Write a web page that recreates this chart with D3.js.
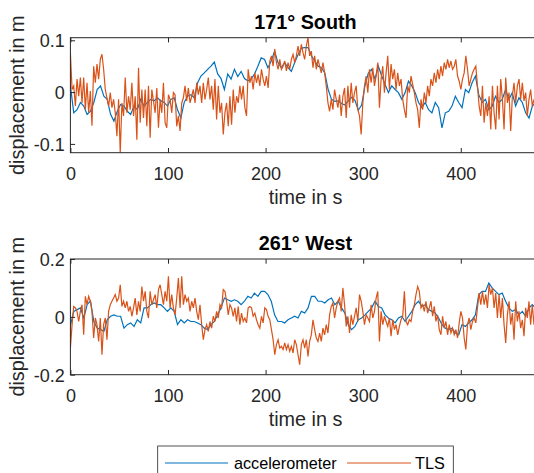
<!DOCTYPE html>
<html><head><meta charset="utf-8">
<script src="https://cdn.jsdelivr.net/npm/d3@7"></script>
<style>
body{margin:0;background:#fff}
svg{display:block}
text{font-family:"Liberation Sans",Arial,Helvetica,sans-serif}
</style>
</head><body>
<svg id="c" width="534" height="473"></svg>
<script>
// ---------- data ----------
const xTicks = [0, 100, 200, 300, 400];
const southTicks = [-0.1, 0, 0.1];
const westTicks = [-0.2, 0, 0.2];
const titles = ["171° South", "261° West"];
const seriesNames = ["accelerometer", "TLS"];
const xLabel = "time in s";
const yLabel = "displacement in m";
const accStep = 3.43;     // s between accelerometer samples read
const tlsStep = 1.7025;   // s between TLS samples read

const southAcc = [0.012,-0.040,-0.034,-0.020,-0.027,-0.043,-0.037,-0.020,0.005,0.012,-0.008,-0.014,-0.043,-0.056,-0.037,-0.024,-0.027,-0.037,-0.043,-0.027,-0.034,-0.014,-0.027,-0.020,-0.014,-0.017,-0.011,-0.017,-0.020,-0.027,-0.014,-0.011,-0.034,-0.050,-0.020,-0.008,-0.005,-0.011,0.018,0.031,0.037,0.044,0.050,0.058,0.035,0.026,0.005,
0.035,0.025,0.044,0.030,0.040,0.026,0.022,0.025,0.035,0.050,0.066,0.063,0.047,0.060,0.079,0.057,0.047,0.057,0.047,0.040,0.057,0.072,0.085,0.086,0.086,0.070,0.060,0.050,0.047,0.037,0.005,-0.014,-0.018,-0.017,-0.022,-0.025,-0.017,-0.010,-0.016,-0.035,-0.025,0.012,0.037,0.044,0.025,0.050,
0.031,0.015,-0.001,0.012,0.005,-0.001,-0.014,-0.001,0.021,0.012,-0.001,-0.020,-0.030,-0.020,-0.034,-0.040,-0.020,-0.030,-0.069,-0.040,-0.037,-0.027,-0.008,-0.020,-0.030,0.005,-0.001,0.018,0.031,-0.005,-0.020,-0.014,-0.034,-0.027,-0.008,-0.020,-0.014,0.005,-0.014,-0.001,-0.027,-0.011,-0.020,-0.040,-0.050,-0.027,-0.020,-0.030];

const southTLS = [0.076,0.005,0.012,-0.027,0.025,-0.008,0.028,-0.021,0.028,-0.034,0.018,-0.040,0.002,-0.065,0.050,0.018,0.054,0.025,0.063,0.073,0.044,0.005,-0.011,-0.027,-0.001,-0.030,-0.014,-0.040,-0.085,-0.014,-0.117,-0.021,-0.046,0.028,-0.040,-0.008,-0.034,0.018,-0.046,-0.008,-0.092,0.047,-0.059,0.005,-0.050,0.005,-0.066,0.012,-0.088,0.005,-0.017,-0.040,0.008,-0.069,-0.014,-0.040,0.018,-0.059,-0.069,-0.005,-0.014,-0.040,-0.001,-0.005,-0.066,-0.046,-0.075,-0.021,-0.011,0.012,-0.017,0.008,-0.021,-0.008,0.005,-0.021,0.018,-0.005,0.012,-0.021,0.018,-0.014,0.005,0.028,-0.014,0.012,-0.034,0.025,-0.053,0.012,-0.040,-0.021,-0.082,-0.040,
-0.021,-0.066,-0.008,-0.063,0.005,-0.040,-0.008,-0.021,0.012,-0.014,0.012,-0.030,-0.046,0.044,0.018,0.031,0.005,0.037,0.018,0.034,0.012,0.044,0.025,0.012,0.031,0.008,0.060,0.070,0.050,0.083,0.057,0.044,0.063,0.044,0.050,0.060,0.041,0.057,0.044,0.063,0.073,0.057,0.070,0.089,0.070,0.092,0.076,0.063,0.089,0.105,0.070,0.079,0.047,0.070,0.044,0.063,0.050,0.037,0.057,0.037,0.012,-0.021,-0.037,-0.014,-0.034,0.005,-0.014,-0.030,-0.005,-0.046,-0.008,0.008,-0.050,0.012,-0.030,0.018,-0.021,-0.001,0.012,-0.034,-0.046,-0.082,-0.021,0.012,0.031,-0.001,0.044,0.018,0.047,0.012,0.031,0.057,-0.030,
0.025,0.050,-0.001,0.037,0.070,0.005,0.054,0.025,0.044,0.005,0.037,0.012,0.025,-0.014,-0.034,-0.050,0.012,-0.001,0.031,0.015,-0.001,-0.021,-0.034,-0.069,-0.014,-0.034,-0.001,-0.021,0.012,-0.008,0.025,0.012,0.037,0.018,0.044,0.025,0.050,0.031,0.057,0.044,0.063,0.047,0.060,0.044,0.050,0.063,0.031,0.021,0.005,0.025,0.037,0.070,0.044,0.012,0.025,0.037,0.044,0.050,0.012,-0.027,-0.046,0.012,-0.059,-0.021,-0.046,-0.008,-0.072,0.012,-0.040,-0.072,0.012,-0.053,0.025,-0.014,-0.072,0.028,-0.021,-0.001,-0.075,-0.008,0.018,-0.021,0.012,0.025,-0.014,0.018,-0.017,-0.001,-0.046,-0.014,0.005,-0.027,-0.014,-0.030,0.000,-0.020];

const westAcc = [-0.030,0.019,0.025,0.031,-0.004,0.042,0.055,-0.016,-0.039,-0.044,-0.050,-0.010,0.002,0.007,0.002,0.002,-0.039,-0.027,-0.021,-0.033,-0.010,-0.021,0.031,0.031,0.042,0.048,0.042,0.042,0.031,0.019,0.031,0.019,-0.027,-0.010,-0.021,-0.010,-0.016,-0.016,-0.021,-0.027,-0.039,-0.044,-0.027,-0.016,0.007,0.031,0.065,
0.059,0.054,0.059,0.054,0.042,0.054,0.071,0.065,0.082,0.071,0.088,0.088,0.077,0.054,0.007,-0.016,-0.016,-0.021,-0.010,-0.004,0.002,-0.004,0.019,0.013,0.031,0.071,0.071,0.054,0.054,0.048,0.059,0.065,0.042,0.054,0.031,0.013,-0.027,-0.044,-0.033,-0.010,-0.004,0.007,0.019,0.031,0.054,0.036,
0.031,0.007,-0.004,-0.010,-0.021,-0.004,0.002,-0.016,0.002,0.019,0.042,0.054,0.036,0.042,0.025,0.019,0.013,-0.004,-0.027,-0.039,-0.044,-0.039,-0.056,-0.062,-0.027,-0.033,-0.021,-0.010,0.007,0.077,0.088,0.088,0.117,0.100,0.088,0.077,0.082,0.054,0.031,0.019,0.025,0.007,0.019,0.002,0.031,0.042,0.030,0.020];

const westTLS = [-0.108,-0.027,0.036,0.031,0.019,-0.016,0.019,0.042,-0.062,0.071,0.042,0.071,0.054,0.019,-0.073,-0.004,-0.027,-0.085,-0.004,-0.131,-0.027,-0.004,-0.079,0.019,0.042,0.054,0.065,0.077,0.054,0.065,0.111,0.036,0.054,0.031,0.054,0.019,0.036,0.002,0.031,0.065,0.007,0.054,0.019,0.105,0.054,0.088,0.019,-0.004,0.088,0.042,0.059,0.077,0.031,0.094,0.111,0.077,0.042,0.088,0.054,0.140,0.031,0.077,0.031,0.007,0.065,0.134,0.031,0.140,0.042,0.077,0.054,0.065,0.019,0.054,0.031,0.065,0.019,-0.010,0.042,-0.027,-0.079,-0.044,-0.027,-0.050,-0.016,-0.039,0.002,-0.016,0.019,-0.004,0.042,0.031,0.094,0.088,
0.054,0.007,0.042,0.031,0.002,0.031,-0.016,0.036,-0.027,0.013,-0.016,-0.004,-0.021,0.031,0.036,0.031,0.002,0.013,-0.010,-0.027,-0.039,0.002,-0.021,0.031,0.025,0.002,-0.010,-0.044,-0.079,-0.131,-0.096,-0.079,-0.108,-0.102,-0.113,-0.090,-0.113,-0.096,-0.119,-0.102,-0.125,-0.079,-0.096,-0.131,-0.165,-0.096,-0.079,-0.108,-0.079,-0.137,-0.085,-0.062,-0.010,-0.044,-0.073,-0.085,-0.056,-0.085,-0.039,-0.062,-0.027,-0.056,0.007,0.036,0.048,-0.004,0.031,0.054,0.065,0.019,0.100,0.042,-0.033,0.002,-0.056,0.007,-0.027,0.002,0.031,-0.016,0.077,0.054,0.019,-0.027,0.007,-0.004,-0.016,0.042,-0.004,0.019,0.065,0.088,-0.085,
0.019,-0.027,0.002,-0.016,-0.033,-0.004,-0.067,-0.010,-0.044,-0.027,-0.062,-0.033,-0.010,0.002,0.088,-0.016,-0.027,-0.010,-0.016,0.019,0.042,0.077,0.105,0.088,0.031,0.042,0.019,0.054,0.013,0.031,0.054,0.002,0.036,-0.016,0.007,-0.044,-0.062,0.002,-0.039,-0.016,-0.062,-0.027,-0.056,-0.039,-0.062,-0.044,-0.073,-0.021,0.019,-0.004,-0.073,-0.113,-0.027,-0.004,-0.044,-0.016,-0.004,-0.021,0.031,0.082,0.042,0.088,0.042,0.077,0.031,0.111,0.077,0.100,0.031,0.082,-0.004,0.077,-0.004,0.065,-0.027,-0.090,0.007,0.054,-0.027,0.013,-0.079,0.054,-0.016,0.019,-0.039,-0.010,-0.067,0.031,-0.004,0.054,-0.027,0.042,-0.027,0.010,-0.020,0.020];

const xDomain = [0, 482];
const southDomain = [-0.117, 0.105];
const westDomain = [-0.2, 0.2];

// ---------- layout ----------
const colors = ["#0072BD", "#D95319"];
const axCol = "#262626";
const left = 70.4, right = 540.8;
const panels = [
  {top: 37.7, bottom: 152.7, dom: southDomain, ticks: southTicks, acc: southAcc, tls: southTLS, title: titles[0]},
  {top: 259, bottom: 374.7, dom: westDomain, ticks: westTicks, acc: westAcc, tls: westTLS, title: titles[1]}
];

const svg = d3.select("#c");
svg.append("rect").attr("width", 534).attr("height", 473).attr("fill", "#fff");
const x = d3.scaleLinear().domain(xDomain).range([left, right]);
const tickLen = 4.7;

panels.forEach((p, k) => {
  const y = d3.scaleLinear().domain(p.dom).range([p.bottom, p.top]);
  const clipId = "clip" + k;
  svg.append("clipPath").attr("id", clipId).append("rect")
    .attr("x", left).attr("y", p.top).attr("width", right - left).attr("height", p.bottom - p.top);

  const g = svg.append("g");
  const accPts = p.acc.map((v, i) => [i * accStep, v]);
  const tlsPts = p.tls.map((v, i) => [i * tlsStep, v]);
  const line = d3.line().x(d => x(d[0])).y(d => y(d[1]));
  g.append("path").datum(accPts).attr("d", line).attr("fill", "none")
    .attr("stroke", colors[0]).attr("stroke-width", 1.2).attr("clip-path", `url(#${clipId})`);
  g.append("path").datum(tlsPts).attr("d", line).attr("fill", "none")
    .attr("stroke", colors[1]).attr("stroke-width", 1.2).attr("clip-path", `url(#${clipId})`);

  // bottom axis
  const xb = svg.append("g").attr("transform", `translate(0,${p.bottom})`)
    .call(d3.axisBottom(x).tickValues(xTicks).tickSize(-tickLen).tickSizeOuter(0).tickFormat(d3.format("d")));
  xb.select(".domain").remove();
  xb.selectAll("line").attr("stroke", axCol);
  xb.selectAll("text").attr("y", 27.4).attr("dy", null).attr("fill", axCol)
    .attr("font-size", 18).attr("font-family", "Liberation Sans, Arial, sans-serif");
  // top axis ticks
  const xt = svg.append("g").attr("transform", `translate(0,${p.top})`)
    .call(d3.axisTop(x).tickValues(xTicks).tickSize(-tickLen).tickSizeOuter(0).tickFormat(""));
  xt.select(".domain").remove();
  xt.selectAll("line").attr("stroke", axCol);
  // left axis
  const yl = svg.append("g").attr("transform", `translate(${left},0)`)
    .call(d3.axisLeft(y).tickValues(p.ticks).tickSize(-tickLen).tickSizeOuter(0).tickPadding(5.7)
      .tickFormat(d => d === 0 ? "0" : String(d)));
  yl.select(".domain").remove();
  yl.selectAll("line").attr("stroke", axCol);
  yl.selectAll("text").attr("dy", "0.36em").attr("fill", axCol)
    .attr("font-size", 18).attr("font-family", "Liberation Sans, Arial, sans-serif");

  // box
  svg.append("rect").attr("x", left).attr("y", p.top).attr("width", right - left).attr("height", p.bottom - p.top)
    .attr("fill", "none").attr("stroke", axCol).attr("stroke-width", 1);

  // title
  svg.append("text").attr("x", 305.5).attr("y", p.top - 8.7).attr("text-anchor", "middle")
    .attr("font-size", 19.8).attr("font-weight", "bold").attr("fill", "#000").text(p.title);
  // x label
  svg.append("text").attr("x", 305.5).attr("y", p.bottom + 51).attr("text-anchor", "middle")
    .attr("font-size", 19.8).attr("fill", axCol).text(xLabel);
  // y label
  const cy = (p.top + p.bottom) / 2;
  svg.append("text").attr("transform", `translate(24,${cy}) rotate(-90)`).attr("text-anchor", "middle")
    .attr("font-size", 19.8).attr("fill", axCol).text(yLabel);
});

// legend
const lg = svg.append("g");
lg.append("rect").attr("x", 157.7).attr("y", 446).attr("width", 295.6).attr("height", 32)
  .attr("fill", "#fff").attr("stroke", axCol).attr("stroke-width", 0.8);
const legItems = [
  {x1: 165, x2: 228, tx: 234},
  {x1: 347, x2: 411, tx: 415}
];
legItems.forEach((it, i) => {
  lg.append("line").attr("x1", it.x1).attr("x2", it.x2).attr("y1", 463).attr("y2", 463)
    .attr("stroke", colors[i]).attr("stroke-width", 1.2);
  lg.append("text").attr("x", it.tx).attr("y", 463).attr("dy", "0.36em")
    .attr("font-size", 16.2).attr("fill", "#000").text(seriesNames[i]);
});
</script>
</body></html>
